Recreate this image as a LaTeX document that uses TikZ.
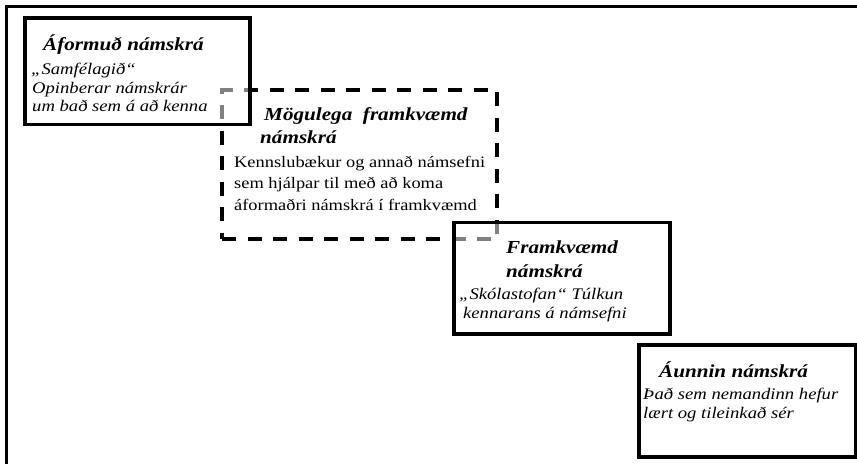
\documentclass[tikz,border=0pt]{standalone}
\usepackage{fontspec}
\setmainfont{Liberation Serif}[FakeStretch=1.15]
\begin{document}
\begin{tikzpicture}[x=1pt,y=-1pt,
  solidbox/.style={draw=black,line width=3.6pt,rectangle,inner sep=0pt,outer sep=0pt,fill=white,fill opacity=0.5},
  dashbox/.style={draw=black,line width=3.6pt,rectangle,inner sep=0pt,outer sep=0pt,dash pattern=on 14pt off 11.5pt},
  ttl/.style={anchor=base west,inner sep=0pt,font=\fontsize{18.4}{20}\selectfont\bfseries\itshape},
  itx/.style={anchor=base west,inner sep=0pt,font=\fontsize{16.2}{18}\selectfont\itshape},
  rtx/.style={anchor=base west,inner sep=0pt,font=\fontsize{16}{18}\selectfont}]
\useasboundingbox (0,0) rectangle (857,464);
\fill[white] (0,0) rectangle (857,464);
% outer frame (only top and left visible)
\draw[line width=3pt] (6.3,464) -- (6.3,6.5) -- (857,6.5);
% dashed box (behind)
\node[dashbox,minimum width=275pt,minimum height=149pt] (b2) at (359.5,164.5) {};
% solid boxes
\node[solidbox,minimum width=225pt,minimum height=106.5pt] (b1) at (137.5,71.25) {};
\node[solidbox,minimum width=216pt,minimum height=111.5pt] (b3) at (562,278.25) {};
\node[solidbox,minimum width=216.5pt,minimum height=112pt,fill opacity=1] (b4) at (747.25,401) {};
% texts box 1
\node[ttl] (t1a) at (43,50) {Áformuð námskrá};
\node[itx] (t1b) at (31,74.5) {„Samfélagið“};
\node[itx] (t1c) at (32,93) {Opinberar námskrár};
\node[itx] (t1d) at (32,111) {um bað sem á að kenna};
% texts box 2
\node[ttl] (t2a) at (264,120) {Mögulega\ \ framkvæmd};
\node[ttl] (t2b) at (260,143) {námskrá};
\node[rtx] (t2c) at (234,167) {Kennslubækur og annað námsefni};
\node[rtx] (t2d) at (234,188.5) {sem hjálpar til með að koma};
\node[rtx] (t2e) at (234,210) {áformaðri námskrá í framkvæmd};
% texts box 3
\node[ttl] (t3a) at (506,253) {Framkvæmd};
\node[ttl] (t3b) at (506,277) {námskrá};
\node[itx] (t3c) at (459,299) {„Skólastofan“ Túlkun};
\node[itx] (t3d) at (463,318) {kennarans á námsefni};
% texts box 4
\node[ttl] (t4a) at (659,377) {Áunnin námskrá};
\node[itx] (t4b) at (643,399) {Það sem nemandinn hefur};
\node[itx] (t4c) at (643,418) {lært og tileinkað sér};
\end{tikzpicture}
\end{document}
